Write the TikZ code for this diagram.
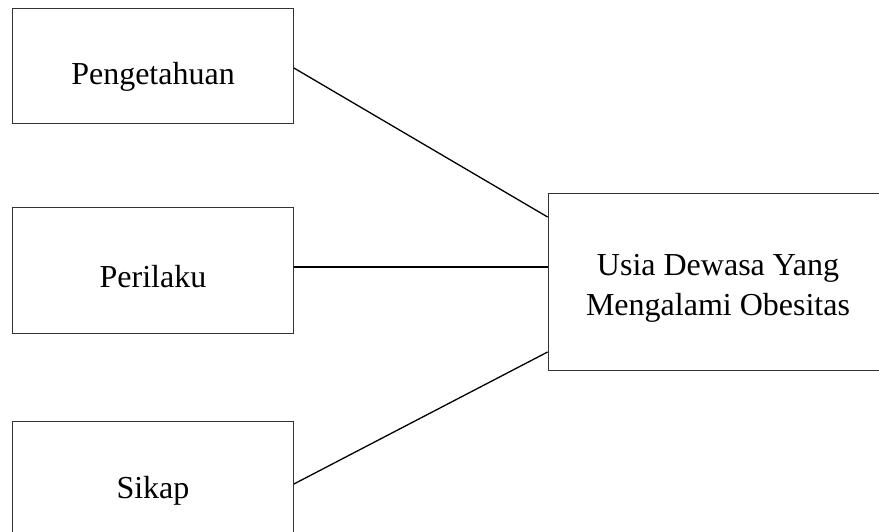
\documentclass[tikz,border=0pt]{standalone}
\usepackage{fontspec}
\setmainfont{Liberation Serif}
\usepackage{tikz}

\tikzset{
  varbox/.style={draw=black!80, line width=0.8pt, minimum width=281pt, inner sep=0pt},
  vartext/.style={inner sep=0pt, align=center, font=\fontsize{32}{40}\selectfont},
  link/.style={draw=black, line width=1.3pt}
}

\begin{document}
\begin{tikzpicture}[x=1pt,y=1pt,yscale=-1,xscale=1]
\useasboundingbox (0,0) rectangle (879,531);

% Left boxes
\node [varbox, minimum height=115pt] (tahu) at (153,65.5) {};
\node [varbox, minimum height=126pt] (laku) at (153,270) {};
\node [varbox, minimum height=118pt] (sikap) at (153,480) {};
% Right box
\node [varbox, minimum width=340pt, minimum height=177pt] (obes) at (718,281.5) {};

% Text Nodes
\node [vartext] (tahu-t) at ([yshift=11pt]tahu.center) {Pengetahuan};
\node [vartext] (laku-t) at ([yshift=7pt]laku.center) {Perilaku};
\node [vartext] (sikap-t) at ([yshift=11pt]sikap.center) {Sikap};
\node [vartext] (obes-t) at ([yshift=7pt]obes.center) {Usia Dewasa Yang\\Mengalami Obesitas};

% Connectors
\draw [link] ([yshift=2.5pt]tahu.east) -- ([yshift=-64.5pt]obes.west);
\draw [link] ([yshift=-3pt]laku.east) -- ([yshift=-14.5pt]obes.west);
\draw [link] ([yshift=4pt]sikap.east) -- ([yshift=70.5pt]obes.west);

\end{tikzpicture}
\end{document}
